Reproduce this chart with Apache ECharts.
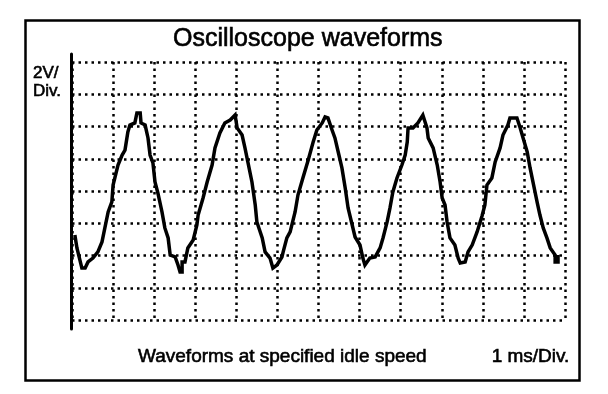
<!DOCTYPE html>
<html>
<head>
<meta charset="utf-8">
<script src="https://cdn.jsdelivr.net/npm/echarts@6/dist/echarts.min.js"></script>
<style>
html,body{margin:0;padding:0;background:#fff;}
#chart{width:608px;height:394px;}
</style>
</head>
<body>
<div id="chart"></div>
<script>
// Time (ms) of each trace sample, 1 ms per division
var timeMs = [0.07,0.12,0.24,0.32,0.39,0.51,0.63,0.73,0.80,0.88,0.97,1.00,1.12,1.22,1.29,1.36,1.41,1.53,1.58,1.66,
  1.68,1.78,1.85,1.90,1.97,2.02,2.09,2.19,2.26,2.34,2.39,2.51,2.58,2.63,2.68,2.68,2.75,2.82,2.95,3.04,
  3.07,3.19,3.29,3.41,3.48,3.60,3.72,3.85,3.97,4.02,4.14,4.21,4.28,4.38,4.46,4.50,4.63,4.70,4.82,4.89,
  4.99,5.11,5.14,5.23,5.31,5.43,5.50,5.62,5.75,5.87,5.96,6.09,6.16,6.23,6.33,6.40,6.48,6.57,6.65,6.72,
  6.82,6.89,7.01,7.08,7.13,7.25,7.38,7.50,7.57,7.67,7.74,7.81,7.91,8.03,8.11,8.16,8.18,8.30,8.42,8.54,
  8.64,8.67,8.79,8.89,8.96,9.01,9.08,9.13,9.20,9.32,9.40,9.45,9.57,9.64,9.74,9.86,9.98,10.05,10.10,10.22,
  10.30,10.42,10.49,10.61,10.66,10.83,10.91,10.98,11.08,11.15,11.22,11.32,11.39,11.47,11.56,11.64,11.76,11.76,11.83,11.83];
// Voltage (V) of each sample, 2 V per division
var volts = [5.27,4.47,3.22,3.22,3.60,3.84,4.22,4.84,5.71,6.70,7.32,8.37,9.61,10.23,10.54,11.66,12.09,12.22,12.84,12.84,
  12.22,12.09,11.29,10.23,9.74,8.56,7.88,6.70,5.71,5.09,4.03,3.91,3.41,2.98,2.98,3.60,3.60,4.47,4.96,5.89,
  6.51,7.57,8.56,9.61,10.67,11.60,12.22,12.40,12.71,11.91,11.47,10.67,9.80,8.56,7.13,6.08,5.09,4.22,3.84,3.22,
  3.41,3.91,4.22,5.09,5.46,6.70,7.75,8.81,9.92,11.04,11.78,12.22,12.59,12.53,11.78,11.29,10.42,9.43,8.19,6.95,
  5.89,5.15,4.65,3.84,3.41,3.84,3.91,4.47,5.09,6.08,6.95,7.94,8.81,9.61,10.23,11.04,11.91,11.91,12.22,12.71,
  11.91,11.29,10.67,9.61,8.56,7.57,7.13,6.08,5.09,4.65,3.84,3.53,3.60,4.22,4.65,5.46,6.45,7.13,8.37,8.81,
  9.80,10.67,11.47,12.09,12.53,12.53,11.91,11.29,10.42,9.43,8.56,7.32,6.51,5.71,5.09,4.47,4.03,3.60,3.60,4.03];

var titleText = 'Oscilloscope waveforms';
var voltsPerDiv = ['2V/', 'Div.'];
var footerText = 'Waveforms at specified idle speed';
var timePerDiv = '1 ms/Div.';

var xDivisions = 12, msPerDiv = 1;
var yDivisions = 8, vPerDiv = 2;

var trace = timeMs.map(function (t, i) { return [t, volts[i]]; });

var font = '"Liberation Sans", Arial, Helvetica, sans-serif';
var dotted = { color: '#000', width: 2.5, type: [2.5, 4] };

function txt(size, extra) {
  var s = { fontFamily: font, fontSize: size, fontWeight: 'normal', color: '#000', lineHeight: size,
            textBorderColor: '#000', textBorderWidth: 0.6 };
  return s;
}

var chart = echarts.init(document.getElementById('chart'), null, { renderer: 'canvas' });
chart.setOption({
  animation: false,
  backgroundColor: '#fff',
  title: [
    { text: titleText, left: 173, top: 27, padding: 0, textStyle: txt(25) },
    { text: voltsPerDiv[0], left: 33, top: 65, padding: 0, textStyle: txt(17) },
    { text: voltsPerDiv[1], left: 33, top: 83, padding: 0, textStyle: txt(17) },
    { text: footerText, left: 138, top: 347, padding: 0, textStyle: txt(19) },
    { text: timePerDiv, right: 38, top: 347, padding: 0, textStyle: txt(19) }
  ],
  graphic: [
    { type: 'rect', left: 23, top: 18, shape: { width: 554, height: 360 },
      style: { fill: 'none', stroke: '#000', lineWidth: 2.5 }, z: 100 }
  ],
  grid: [
    { left: 72, top: 62, right: 43, bottom: 74 },
    { left: 71, top: 54, right: 43, bottom: 65 }
  ],
  xAxis: [
    { type: 'value', gridIndex: 0, min: 0, max: xDivisions * msPerDiv, interval: msPerDiv,
      axisLine: { show: false }, axisTick: { show: false }, axisLabel: { show: false },
      splitLine: { show: true, lineStyle: dotted } },
    { type: 'value', gridIndex: 1, min: 0, max: 1, show: false }
  ],
  yAxis: [
    { type: 'value', gridIndex: 0, min: 0, max: yDivisions * vPerDiv, interval: vPerDiv,
      axisLine: { show: false }, axisTick: { show: false }, axisLabel: { show: false },
      splitLine: { show: true, lineStyle: dotted } },
    { type: 'value', gridIndex: 1, min: 0, max: 1,
      axisLine: { show: true, onZero: false, lineStyle: { color: '#000', width: 3 } },
      axisTick: { show: false }, axisLabel: { show: false }, splitLine: { show: false } }
  ],
  series: [
    { type: 'line', xAxisIndex: 0, yAxisIndex: 0, data: trace, showSymbol: false, symbol: 'none',
      lineStyle: { color: '#000', width: 3.5, join: 'miter' }, z: 5 }
  ]
});
</script>
</body>
</html>
